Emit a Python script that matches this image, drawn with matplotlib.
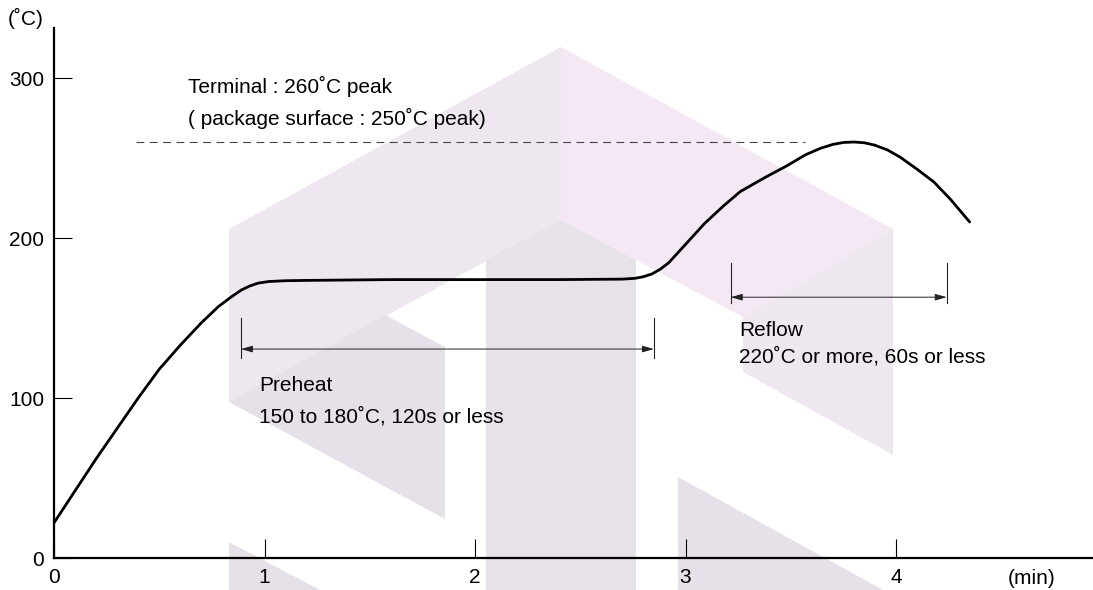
import matplotlib
matplotlib.use("Agg")
import matplotlib.pyplot as plt
from matplotlib.patches import Polygon

plt.rcParams['font.family'] = ['Liberation Sans', 'DejaVu Sans']

# reflow profile (min, degC)
time_min = [0.0, 0.1, 0.2, 0.3, 0.4, 0.5, 0.6, 0.7, 0.78, 0.84, 0.89, 0.93,
            0.97, 1.02, 1.1, 1.2, 1.6, 2.0, 2.4, 2.7, 2.76, 2.8, 2.84, 2.88,
            2.92, 3.0, 3.09, 3.18, 3.26, 3.38, 3.48, 3.57, 3.64, 3.7, 3.75,
            3.8, 3.85, 3.9, 3.96, 4.02, 4.1, 4.18, 4.26, 4.35]
temp_c = [22, 42, 62, 81, 100, 118, 133, 147, 157, 163, 167.5, 170,
          171.8, 172.8, 173.3, 173.5, 174, 174, 174, 174.3, 174.8, 175.8,
          177.5, 180.5, 184.5, 196, 209, 220, 229, 238, 245, 252, 256,
          258.5, 259.7, 260, 259.5, 258, 255, 250.5, 243, 235, 224, 210]

peak_temp = 260
peak_span = [0.39, 3.57]
preheat_span = [0.888, 2.85]
preheat_bar = [125, 150]
preheat_arrow_y = 130.6
reflow_span = [3.215, 4.241]
reflow_bar = [159.4, 184.6]
reflow_arrow_y = 163

x_ticks = [0, 1, 2, 3, 4]
y_ticks = [0, 100, 200, 300]

W, H = 1093, 590
fig = plt.figure(figsize=(W / 100, H / 100), dpi=100)
ax = fig.add_axes([54 / W, 32 / H, (W - 54) / W, 530 / H])
ax.patch.set_alpha(0)

# faint watermark logo behind the chart (figure pixels)
def wm(pts, color):
    p = Polygon([(x / W, 1 - y / H) for x, y in pts], closed=True,
                transform=fig.transFigure, facecolor=color, edgecolor='none',
                zorder=-5)
    fig.add_artist(p)

wm([(229, 229), (561, 47), (561, 220), (229, 402)], '#efe7f0')
wm([(561, 47), (893, 229), (743, 317), (561, 220)], '#f5e8f5')
wm([(743, 317), (893, 229), (893, 455), (743, 372)], '#efe7f0')
wm([(229, 402), (385, 315), (445, 347), (445, 519)], '#e6e0e8')
wm([(486, 590), (486, 260), (561, 220), (636, 260), (636, 590)], '#e7e1e9')
wm([(229, 542), (320, 590), (229, 590)], '#e6e0e8')
wm([(678, 477), (883, 590), (678, 590)], '#e6e0e8')

ax.plot(time_min, temp_c, color='black', lw=2.0, solid_capstyle='round',
        solid_joinstyle='round', zorder=3)

ax.plot(peak_span, [peak_temp, peak_temp], color='#444444', lw=0.8,
        dashes=(7, 5))

# preheat / reflow range markers
for span, bar, ay in [(preheat_span, preheat_bar, preheat_arrow_y),
                      (reflow_span, reflow_bar, reflow_arrow_y)]:
    for xv in span:
        ax.plot([xv, xv], bar, color='#222222', lw=0.8)
    ax.annotate('', xy=(span[1], ay), xytext=(span[0], ay),
                arrowprops=dict(arrowstyle='<|-|>,head_length=0.7,head_width=0.2',
                                color='#222222', lw=0.7, shrinkA=0, shrinkB=0,
                                mutation_scale=10))

fs = 15
ax.text(0.637, 294.4, 'Terminal : 260˚C peak', fontsize=fs, va='center')
ax.text(0.637, 274.4, '( package surface : 250˚C peak)', fontsize=fs, va='center')
ax.text(0.974, 108, 'Preheat', fontsize=fs, va='center')
ax.text(0.974, 88.3, '150 to 180˚C, 120s or less', fontsize=fs, va='center')
ax.text(3.254, 142, 'Reflow', fontsize=fs, va='center')
ax.text(3.254, 125.8, '220˚C or more, 60s or less', fontsize=fs, va='center')

ax.set_xlim(0, (W - 54) / 210.5)
ax.set_ylim(0, 530 / 1.6)
ax.set_xticks(x_ticks)
ax.set_yticks(y_ticks)
ax.tick_params(direction='in', length=14, width=0.8, labelsize=fs, pad=7)
ax.tick_params(axis='y', length=13)
ax.spines['top'].set_visible(False)
ax.spines['right'].set_visible(False)
ax.spines['left'].set_linewidth(1.6)
ax.spines['bottom'].set_linewidth(1.6)

fig.text(8 / W, 1 - 18 / H, '(˚C)', fontsize=fs, va='center', ha='left')
fig.text(1008 / W, 1 - 578 / H, '(min)', fontsize=fs, va='center', ha='left')

plt.savefig('out.png', dpi=100)
